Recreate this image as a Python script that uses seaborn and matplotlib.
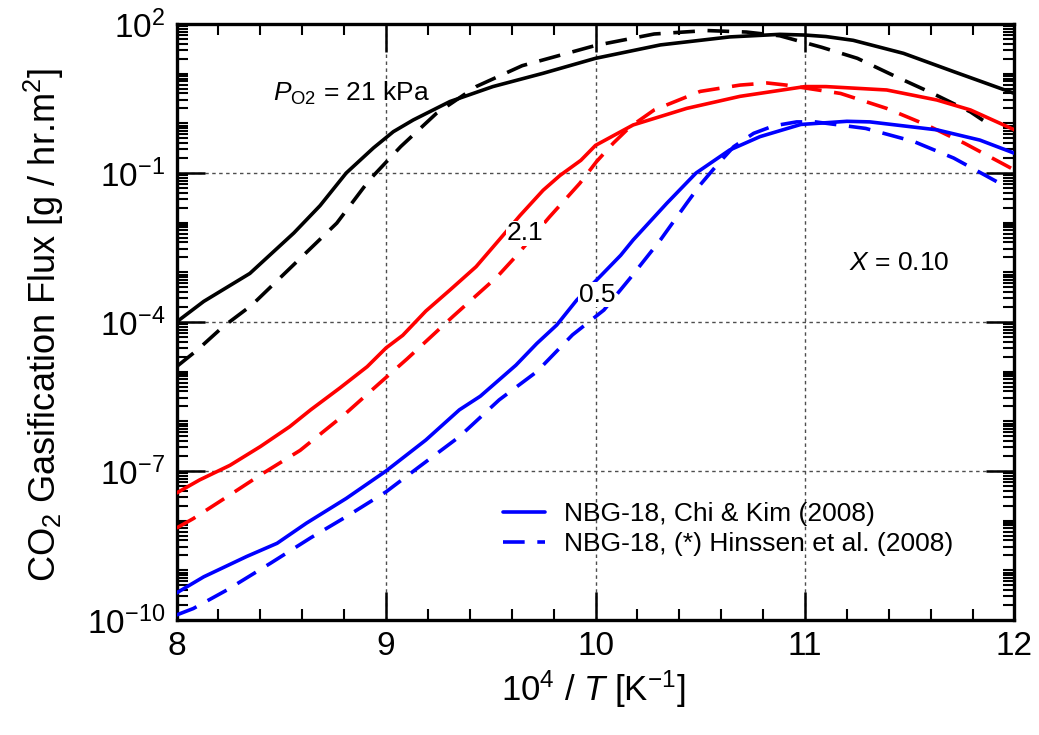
import numpy as np
import pandas as pd
import matplotlib
matplotlib.use("Agg")
import matplotlib.pyplot as plt
import matplotlib.ticker as mticker
from matplotlib.lines import Line2D
import seaborn as sns

# ---------------- data ----------------
# P_O2 = 21 kPa
x_21_chi = [8.0, 8.13, 8.35, 8.56, 8.685, 8.81, 8.94, 9.035, 9.13, 9.305, 9.51, 9.75,
            10.0, 10.31, 10.64, 10.88, 11.0, 11.1, 11.23, 11.47, 11.71, 12.0]
y_21_chi = [1.0e-4, 2.6e-4, 9.5e-4, 6.2e-3, 2.2e-2, 0.10, 0.32, 0.68, 1.17, 2.75, 5.5, 10.2,
            20.4, 38.0, 55.0, 62.0, 60.0, 56.0, 47.0, 25.7, 11.0, 4.0]
x_21_hin = [8.0, 8.10, 8.22, 8.36, 8.59, 8.765, 8.92, 9.07, 9.24, 9.43, 9.65, 10.0,
            10.28, 10.53, 10.72, 10.88, 11.08, 11.25, 11.42, 11.61, 11.79, 11.85]
y_21_hin = [1.26e-5, 2.75e-5, 7.9e-5, 2.2e-4, 1.9e-3, 9.8e-3, 7.2e-2, 0.34, 1.58, 5.5, 14.5, 37.0,
            63.0, 74.0, 69.0, 58.0, 34.0, 20.4, 9.3, 4.0, 1.7, 1.15]

# P_O2 = 2.1 kPa
x_2p1_chi = [8.0, 8.11, 8.255, 8.40, 8.54, 8.64, 8.78, 8.91, 9.0, 9.08, 9.19, 9.305, 9.43,
             9.54, 9.64, 9.75, 9.83, 9.93, 10.0, 10.18, 10.435, 10.69, 11.0, 11.1, 11.39,
             11.63, 11.79, 12.0]
y_2p1_chi = [3.6e-8, 6.6e-8, 1.3e-7, 3.1e-7, 7.8e-7, 1.7e-6, 4.7e-6, 1.26e-5, 3.0e-5, 5.4e-5,
             1.66e-4, 4.4e-4, 1.3e-3, 4.5e-3, 1.4e-2, 4.5e-2, 8.9e-2, 0.18, 0.36, 0.93, 2.0,
             3.5, 5.5, 5.5, 4.7, 2.95, 1.86, 0.74]
x_2p1_hin = [8.0, 8.08, 8.24, 8.40, 8.59, 8.80, 8.97, 9.10, 9.32, 9.53, 9.62, 9.78, 9.925,
             10.005, 10.085, 10.165, 10.28, 10.50, 10.69, 10.82, 10.91, 11.17, 11.39, 11.58,
             11.76, 12.0]
y_2p1_hin = [7.1e-9, 1.1e-8, 3.0e-8, 8.3e-8, 2.6e-7, 1.35e-6, 5.9e-6, 1.8e-5, 1.3e-4, 8.1e-4,
             2.1e-3, 1.3e-2, 6.2e-2, 0.17, 0.40, 0.85, 1.86, 4.4, 5.9, 6.5, 5.9, 4.0, 2.0, 0.93,
             0.40, 0.115]

# P_O2 = 0.5 kPa
x_0p5_chi = [8.0, 8.13, 8.335, 8.48, 8.62, 8.81, 9.0, 9.19, 9.35, 9.45, 9.62, 9.72, 9.815,
             9.91, 10.02, 10.12, 10.18, 10.34, 10.48, 10.64, 10.785, 10.98, 11.2, 11.31,
             11.63, 11.835, 12.0]
y_0p5_chi = [3.5e-10, 7.4e-10, 1.9e-9, 3.5e-9, 8.9e-9, 2.8e-8, 1.0e-7, 4.2e-7, 1.7e-6, 3.2e-6,
             1.35e-5, 3.7e-5, 8.7e-5, 2.75e-4, 8.1e-4, 2.2e-3, 4.5e-3, 2.45e-2, 0.10, 0.29,
             0.54, 0.95, 1.1, 1.07, 0.74, 0.46, 0.25]
x_0p5_hin = [8.0, 8.08, 8.24, 8.45, 8.64, 8.81, 9.0, 9.16, 9.35, 9.54, 9.72, 9.89, 10.04,
             10.165, 10.31, 10.435, 10.50, 10.58, 10.66, 10.755, 10.85, 10.96, 11.05, 11.29,
             11.52, 11.71, 11.85, 11.93]
y_0p5_hin = [1.26e-10, 1.7e-10, 4.0e-10, 1.4e-9, 4.5e-9, 1.2e-8, 3.8e-8, 1.23e-7, 4.9e-7,
             2.7e-6, 1.0e-5, 5.5e-5, 1.74e-4, 7.6e-4, 4.5e-3, 2.45e-2, 5.8e-2, 0.145, 0.34,
             0.63, 0.89, 1.07, 1.07, 0.79, 0.43, 0.20, 9.5e-2, 6.2e-2]

pressures = ["21", "2.1", "0.5"]
models = ["Chi & Kim (2008)", "(*) Hinssen et al. (2008)"]
x_ticks = [8, 9, 10, 11, 12]
y_major = [1e-10, 1e-7, 1e-4, 1e-1, 1e2]
legend_labels = ["NBG-18, Chi & Kim (2008)", "NBG-18, (*) Hinssen et al. (2008)"]

# ---------------- long table ----------------
series = [
    (x_21_chi, y_21_chi, pressures[0], models[0]),
    (x_21_hin, y_21_hin, pressures[0], models[1]),
    (x_2p1_chi, y_2p1_chi, pressures[1], models[0]),
    (x_2p1_hin, y_2p1_hin, pressures[1], models[1]),
    (x_0p5_chi, y_0p5_chi, pressures[2], models[0]),
    (x_0p5_hin, y_0p5_hin, pressures[2], models[1]),
]
df = pd.concat([pd.DataFrame({"x": xs, "flux": ys, "P": p, "model": m})
                for xs, ys, p, m in series], ignore_index=True)

# ---------------- style ----------------
sns.set_theme(style="white")
plt.rcParams["font.family"] = ["Liberation Sans", "DejaVu Sans"]
plt.rcParams["mathtext.fontset"] = "custom"
plt.rcParams["mathtext.rm"] = "Liberation Sans"
plt.rcParams["mathtext.it"] = "Liberation Sans:italic"
plt.rcParams["mathtext.bf"] = "Liberation Sans:bold"
for key in ["text.color", "axes.labelcolor", "xtick.color", "ytick.color", "axes.edgecolor"]:
    plt.rcParams[key] = "black"

fig = plt.figure(figsize=(10.39, 7.35), dpi=100)
ax = fig.add_axes([0.1699, 0.1565, 0.8065, 0.8108])

palette = {"21": "#000000", "2.1": "#ff0000", "0.5": "#0000ff"}
dash_map = {models[0]: "", models[1]: (6, 3.5)}
LW = 2.6

sns.lineplot(data=df, x="x", y="flux", hue="P", style="model", palette=palette,
             dashes=dash_map, estimator=None, sort=False, linewidth=LW,
             legend=False, ax=ax, zorder=3)

ax.set_yscale("log")
ax.set_xlim(8, 12)
ax.set_ylim(1e-10, 1e2)

# ticks
ax.set_xticks(x_ticks)
ax.xaxis.set_major_formatter(mticker.FormatStrFormatter("%d"))
ax.xaxis.set_minor_locator(mticker.MultipleLocator(0.2))
ax.yaxis.set_major_locator(mticker.FixedLocator(y_major))
ax.yaxis.set_major_formatter(mticker.LogFormatterMathtext())
ax.yaxis.set_minor_locator(mticker.LogLocator(base=10, subs=np.arange(1, 10), numticks=100))
ax.yaxis.set_minor_formatter(mticker.NullFormatter())

ax.tick_params(which="both", direction="in", bottom=True, left=True, top=True, right=True,
               colors="black")
ax.tick_params(which="major", length=20, width=1.8, labelsize=24, pad=8)
ax.tick_params(which="minor", length=8, width=1.5)
for s in ax.spines.values():
    s.set_linewidth(2.4)
    s.set_color("black")

ax.grid(True, which="major", linestyle=(0, (2.5, 2.5)), color="0.3", linewidth=1.0)
ax.grid(False, which="minor")
ax.set_axisbelow(True)

# labels
ax.set_xlabel(r"10$^4$ / $T$ [K$^{-1}$]", fontsize=25)
ax.set_ylabel(r"CO$_2$ Gasification Flux [g / hr.m$^2$]", fontsize=26)
ax.xaxis.set_label_coords(0.497, -0.082)
ax.yaxis.set_label_coords(-0.132, 0.495)

# annotations
ax.text(8.46, 10 ** 0.45, r"$P_{\rm O2}$ = 21 kPa", fontsize=19, ha="left", va="baseline", zorder=5)
ax.text(9.662, 10 ** -2.214, "2.1", fontsize=19, ha="center", va="center", zorder=5,
        bbox=dict(facecolor="white", edgecolor="none", pad=0.5))
ax.text(10.006, 10 ** -3.45, "0.5", fontsize=19, ha="center", va="center", zorder=5,
        bbox=dict(facecolor="white", edgecolor="none", pad=0.5))
ax.text(11.21, 10 ** -2.95, r"$X$ = 0.10", fontsize=19, ha="left", va="baseline", zorder=5)

# legend
handles = [Line2D([], [], color=palette["0.5"], lw=LW, linestyle="-"),
           Line2D([], [], color=palette["0.5"], lw=LW, dashes=(6, 3.5))]
ax.legend(handles, legend_labels, loc="upper left", bbox_to_anchor=(0.3896, 0.198),
          frameon=False, fontsize=19, handlelength=1.6, handletextpad=0.7,
          labelspacing=0.22, borderpad=0, borderaxespad=0)

fig.savefig("out.png", dpi=100)
